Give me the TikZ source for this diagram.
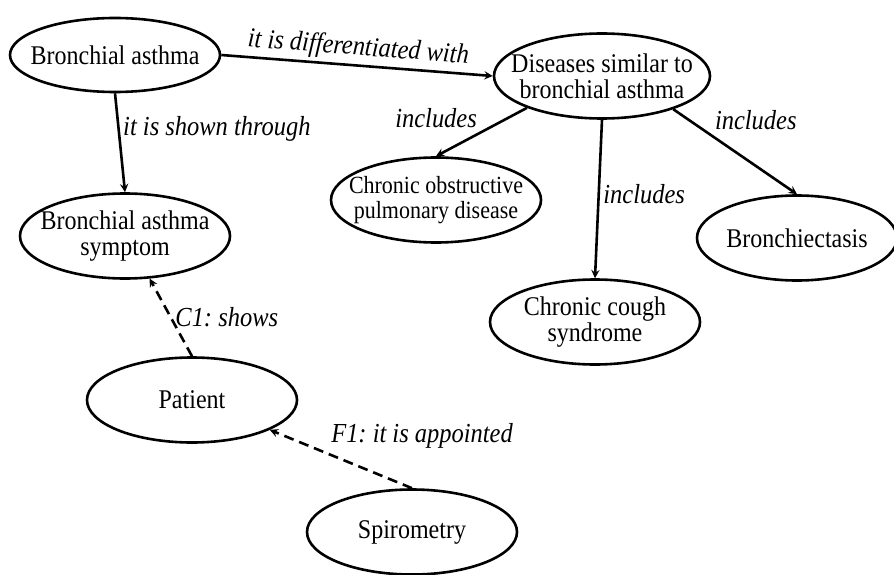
\documentclass[tikz,border=0pt]{standalone}
\usepackage{fontspec}
\setmainfont{Liberation Serif}[FakeStretch=0.89]
\usetikzlibrary{shapes.geometric}
\frenchspacing

\begin{document}
\begin{tikzpicture}[x=1pt,y=-1pt,line width=2.6pt,>=stealth,
ell/.style={draw,ellipse,minimum width=210pt,minimum height=85pt,inner sep=-20pt,align=center,font=\fontsize{27}{26}\selectfont},
ell1/.style={ell,font=\fontsize{24.7}{25}\selectfont},
lab/.style={font=\fontsize{27.5}{30}\selectfont\itshape},
dline/.style={dash pattern=on 10pt off 6pt}]
\useasboundingbox (0,0) rectangle (894,575);
\node[ell,minimum height=74pt] (ba) at (115,55) {Bronchial asthma};
\node[ell,minimum width=216pt] (dis) at (602,76) {Diseases similar to\\bronchial asthma};
\node[ell] (sym) at (125,236) {Bronchial asthma\\symptom};
\node[ell1] (copd) at (436,200) {Chronic obstructive\\pulmonary disease};
\node[ell,minimum width=200pt] (bre) at (797,238) {Bronchiectasis};
\node[ell] (cough) at (595,322) {Chronic cough\\syndrome};
\node[ell] (pat) at (192,400) {Patient};
\node[ell] (spi) at (412,532) {Spirometry};
\draw[->] (ba.east) -- node[lab,sloped,above] {it is differentiated with} (dis.west);
\draw[->] (ba.south) -- node[lab,right,pos=.36] {it is shown through} (sym.north);
\draw[->] (dis.-157) -- node[lab,above left] {includes} (copd.north);
\draw[->] (dis.south) -- node[lab,right,pos=.47] {includes} (cough.north);
\draw[->] (dis.-25) -- node[lab,above right,pos=.3] {includes} (bre.north);
\draw[->,dline] (pat.north) -- node[lab,right,pos=.5] {C1: shows} (sym.-60);
\draw[->,dline] (spi.north) -- node[lab,above right,pos=.6] {F1: it is appointed} (pat.-21);
\end{tikzpicture}
\end{document}
